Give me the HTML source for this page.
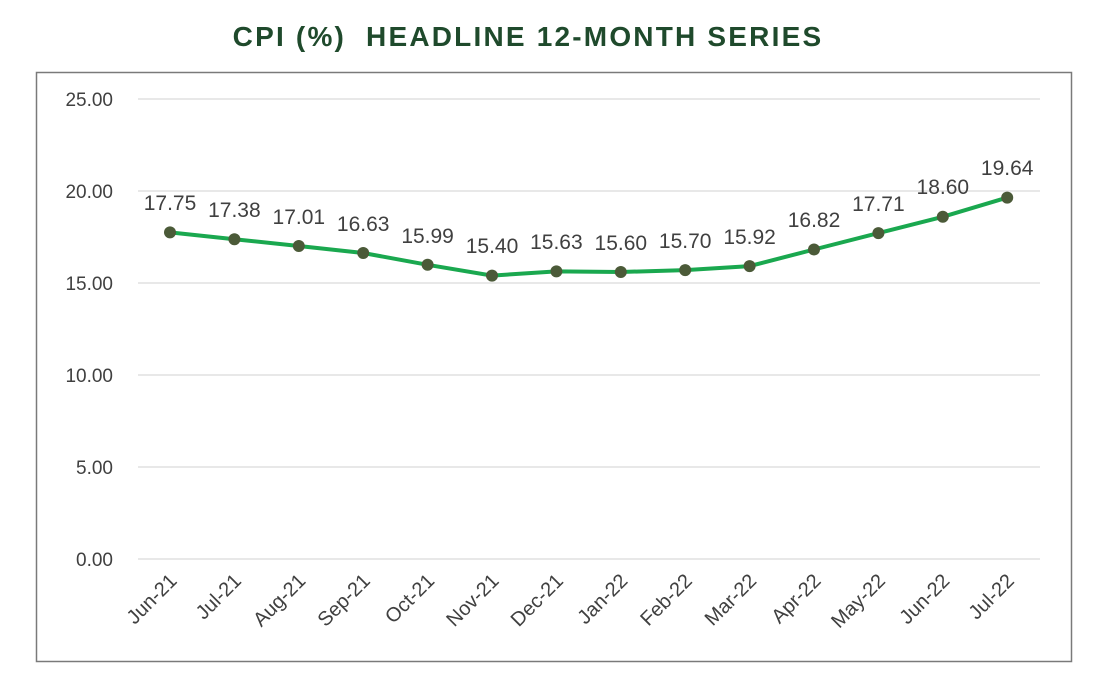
<!DOCTYPE html>
<html><head><style>body{margin:0;background:#fff}svg{display:block}</style></head><body>
<svg width="1120" height="678" xmlns="http://www.w3.org/2000/svg" font-family="Liberation Sans, sans-serif">
<rect width="1120" height="678" fill="#fff"/>
<text x="528" y="46" text-anchor="middle" font-size="28" font-weight="bold" fill="#1f4a2c" letter-spacing="2.2" xml:space="preserve">CPI (%)  HEADLINE 12-MONTH SERIES</text>
<rect x="36.5" y="72.5" width="1035" height="589" fill="none" stroke="#7a7a7a" stroke-width="1.5"/>
<g stroke="#d9d9d9" stroke-width="1.2">
<line x1="138" x2="1040" y1="99" y2="99"/><line x1="138" x2="1040" y1="191" y2="191"/><line x1="138" x2="1040" y1="283" y2="283"/><line x1="138" x2="1040" y1="375" y2="375"/><line x1="138" x2="1040" y1="467" y2="467"/><line x1="138" x2="1040" y1="559" y2="559"/>
</g>
<g font-size="19" fill="#404040" text-anchor="end">
<text x="113" y="106">25.00</text><text x="113" y="198">20.00</text><text x="113" y="290">15.00</text><text x="113" y="382">10.00</text><text x="113" y="474">5.00</text><text x="113" y="566">0.00</text>
</g>
<polyline points="170,232.4 234.4,239.2 298.8,246 363.2,253 427.6,264.8 492,275.6 556.4,271.4 620.8,272 685.2,270.1 749.6,266.1 814,249.5 878.4,233.1 942.8,216.8 1007.2,197.6" fill="none" stroke="#1aa84f" stroke-width="4"/>
<g fill="#4b5a38">
<circle cx="170" cy="232.4" r="6"/><circle cx="234.4" cy="239.2" r="6"/><circle cx="298.8" cy="246" r="6"/><circle cx="363.2" cy="253" r="6"/><circle cx="427.6" cy="264.8" r="6"/><circle cx="492" cy="275.6" r="6"/><circle cx="556.4" cy="271.4" r="6"/><circle cx="620.8" cy="272" r="6"/><circle cx="685.2" cy="270.1" r="6"/><circle cx="749.6" cy="266.1" r="6"/><circle cx="814" cy="249.5" r="6"/><circle cx="878.4" cy="233.1" r="6"/><circle cx="942.8" cy="216.8" r="6"/><circle cx="1007.2" cy="197.6" r="6"/>
</g>
<g font-size="21" fill="#404040" text-anchor="middle">
<text x="170" y="210">17.75</text><text x="234.4" y="217">17.38</text><text x="298.8" y="224">17.01</text><text x="363.2" y="231">16.63</text><text x="427.6" y="243">15.99</text><text x="492" y="253">15.40</text><text x="556.4" y="249">15.63</text><text x="620.8" y="250">15.60</text><text x="685.2" y="248">15.70</text><text x="749.6" y="244">15.92</text><text x="814" y="227">16.82</text><text x="878.4" y="211">17.71</text><text x="942.8" y="194">18.60</text><text x="1007.2" y="175">19.64</text>
</g>
<g font-size="20" fill="#404040" text-anchor="end">
<text transform="translate(178,582) rotate(-45)">Jun-21</text>
<text transform="translate(242.4,582) rotate(-45)">Jul-21</text>
<text transform="translate(306.8,582) rotate(-45)">Aug-21</text>
<text transform="translate(371.2,582) rotate(-45)">Sep-21</text>
<text transform="translate(435.6,582) rotate(-45)">Oct-21</text>
<text transform="translate(500,582) rotate(-45)">Nov-21</text>
<text transform="translate(564.4,582) rotate(-45)">Dec-21</text>
<text transform="translate(628.8,582) rotate(-45)">Jan-22</text>
<text transform="translate(693.2,582) rotate(-45)">Feb-22</text>
<text transform="translate(757.6,582) rotate(-45)">Mar-22</text>
<text transform="translate(822,582) rotate(-45)">Apr-22</text>
<text transform="translate(886.4,582) rotate(-45)">May-22</text>
<text transform="translate(950.8,582) rotate(-45)">Jun-22</text>
<text transform="translate(1015.2,582) rotate(-45)">Jul-22</text>
</g>
</svg>
</body></html>
